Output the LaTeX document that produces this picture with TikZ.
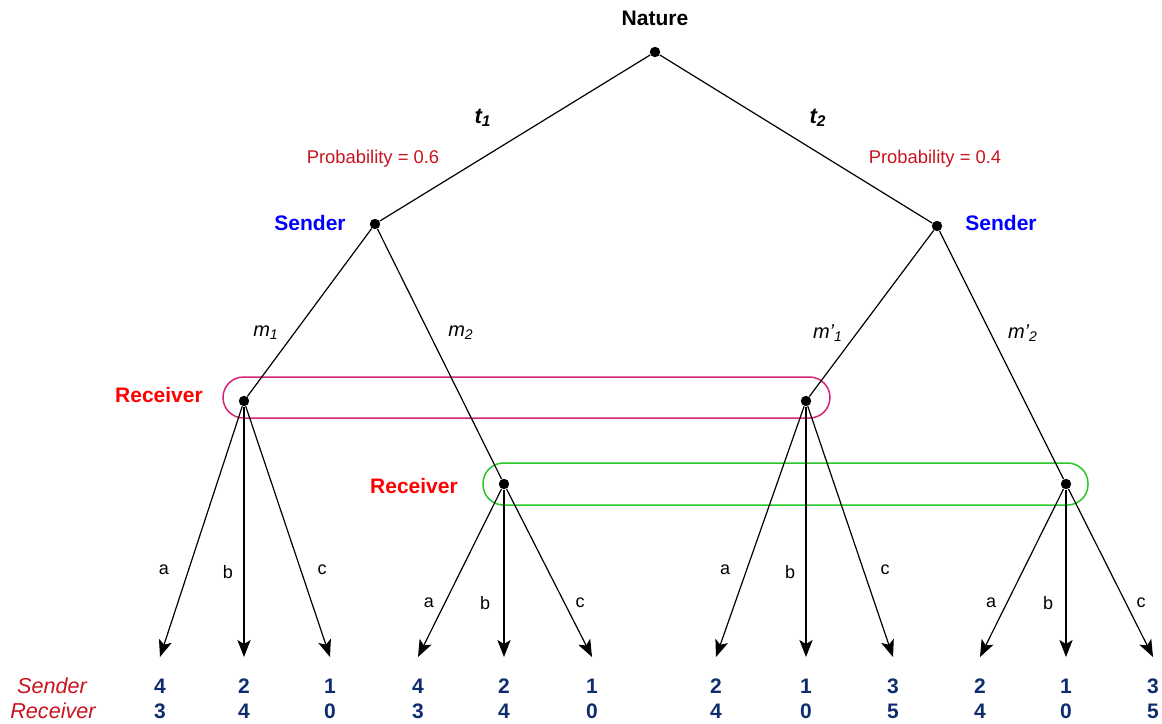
\documentclass[tikz,border=0pt]{standalone}
\usepackage{fontspec}
\setmainfont{Liberation Sans}
\usetikzlibrary{arrows.meta,calc}
\definecolor{sendercol}{RGB}{0,0,255}
\definecolor{receivercol}{RGB}{255,0,0}
\definecolor{probcol}{RGB}{200,20,30}
\definecolor{payoffcol}{RGB}{15,45,110}
\definecolor{infoone}{RGB}{212,36,120}
\definecolor{infotwo}{RGB}{40,200,40}

\begin{document}
\begin{tikzpicture}[x=0.5pt,y=-0.5pt,
    dot/.style={circle,fill=black,inner sep=0pt,minimum size=5.2pt},
    edge/.style={line width=0.6pt},
    move/.style={edge,-{Stealth[length=8.5pt,width=6.6pt,inset=2pt]}},
    player/.style={font=\bfseries\fontsize{10.5}{12}\selectfont},
    prob/.style={text=probcol,font=\fontsize{9.2}{11}\selectfont},
    msg/.style={font=\itshape\fontsize{10}{12}\selectfont},
    act/.style={font=\fontsize{9}{11}\selectfont},
    payoff/.style={text=payoffcol,font=\bfseries\fontsize{10.5}{12}\selectfont},
    rowlabel/.style={text=probcol,font=\itshape\fontsize{10.8}{12}\selectfont},
    infoset/.style={line width=0.75pt,rounded corners=10.25pt}
    ]
    \useasboundingbox (0,0) rectangle (1162,723);

    \node[dot] (n) at (655,52) {};
    \node[dot] (s1) at (375,224) {};
    \node[dot] (s2) at (937,226) {};
    \node[dot] (r1) at (244,401) {};
    \node[dot] (r2) at (504,484) {};
    \node[dot] (r3) at (806,401) {};
    \node[dot] (r4) at (1066,484) {};

    \node[player] (nature) at (655,18) {Nature};
    \node[player,text=sendercol] (sl1) at (310,223) {Sender};
    \node[player,text=sendercol] (sl2) at (1001,223) {Sender};
    \node[player,text=receivercol] (rl1) at (159,395) {Receiver};
    \node[player,text=receivercol] (rl2) at (414,486) {Receiver};

    % information sets
    \draw[infoset,draw=infoone] ($(r1)+(-21,-24)$) rectangle ($(r3)+(24,17)$);
    \draw[infoset,draw=infotwo] ($(r2)+(-21,-21)$) rectangle ($(r4)+(22,21)$);

    \draw[edge] (n) -- (s1);
    \draw[edge] (n) -- (s2);
    \draw[edge] (s1) -- (r1);
    \draw[edge] (s1) -- (r2);
    \draw[edge] (s2) -- (r3);
    \draw[edge] (s2) -- (r4);

    \node[font=\bfseries\itshape\fontsize{11}{12}\selectfont] (t1) at (483,118) {t\textsubscript{1}};
    \node[font=\bfseries\itshape\fontsize{11}{12}\selectfont] (t2) at (818,118) {t\textsubscript{2}};
    \node[prob] (p1) at (373,159) {Probability = 0.6};
    \node[prob] (p2) at (935,159) {Probability = 0.4};
    \node[msg] (m1) at (266,333) {m\textsubscript{1}};
    \node[msg] (m2) at (461,333) {m\textsubscript{2}};
    \node[msg] (m3) at (828,333) {m’\textsubscript{1}};
    \node[msg] (m4) at (1023,333) {m’\textsubscript{2}};

    \foreach \x/\s/\r [count=\i] in {160/4/3,244/2/4,330/1/0,418/4/3,504/2/4,592/1/0,
                                     716/2/4,806/1/0,893/3/5,980/2/4,1066/1/0,1153/3/5}
    {
        \coordinate (z\i) at (\x,657);
        \node[payoff] (ps\i) at (\x,686) {\s};
        \node[payoff] (pr\i) at (\x,711) {\r};
    }

    \foreach \i in {1,2,3} \draw[move] (r1) -- (z\i);
    \foreach \i in {4,5,6} \draw[move] (r2) -- (z\i);
    \foreach \i in {7,8,9} \draw[move] (r3) -- (z\i);
    \foreach \i in {10,11,12} \draw[move] (r4) -- (z\i);

    \foreach \x/\y/\a [count=\i] in {164/570/a,228/572/b,322/570/c,429/603/a,485/603/b,580/603/c,
                                     725/570/a,790/572/b,885/570/c,991/603/a,1048/603/b,1141/603/c}
        \node[act] (a\i) at (\x,\y) {\a};

    \node[rowlabel] (rowsender) at (52,686) {Sender};
    \node[rowlabel] (rowreceiver) at (53,711) {Receiver};
\end{tikzpicture}
\end{document}
